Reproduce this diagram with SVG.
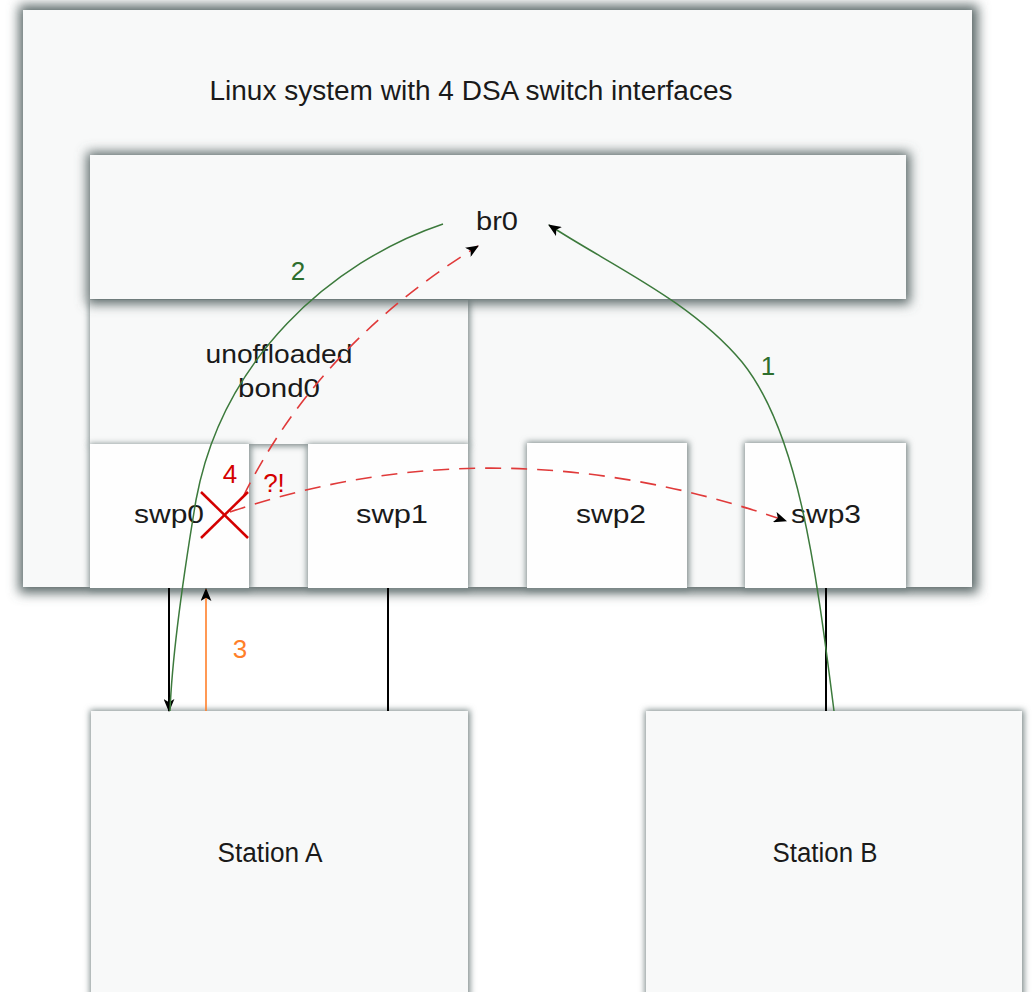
<svg xmlns="http://www.w3.org/2000/svg" width="1033" height="992" viewBox="0 0 1033 992">
  <style>
    .box { fill: #f8f9f9; }
    .port { fill: #fefefe; }
    .shadow { fill: #5a6868; }
    .shadow-s { fill: #7a8888; }
    .lbl { font-family: "Liberation Sans", Arial, sans-serif; fill: #1a1a1a; text-anchor: middle; }
    .port-lbl { font-size: 26px; }
    .wire { stroke: #000; stroke-width: 2; fill: none; }
    .flow-ok { stroke: #3c7a3c; stroke-width: 1.5; fill: none; }
    .flow-bad { stroke: #e03a3a; stroke-width: 1.6; fill: none; stroke-dasharray: 16 10; }
    .num { font-family: "Liberation Sans", Arial, sans-serif; font-size: 26px; text-anchor: middle; }
  </style>
  <defs>
    <filter id="blur" x="-20%" y="-20%" width="140%" height="140%">
      <feGaussianBlur stdDeviation="6"/>
    </filter>
    <filter id="blur-s" x="-20%" y="-20%" width="140%" height="140%">
      <feGaussianBlur stdDeviation="3"/>
    </filter>
    <marker id="head" viewBox="0 0 12 10" refX="11" refY="5" markerWidth="13" markerHeight="11" markerUnits="userSpaceOnUse" orient="auto">
      <path d="M0,0 L12,5 L0,10 L3,5 z" fill="#000"/>
    </marker>
  </defs>

  <rect width="1033" height="992" fill="#fff"/>

  <!-- host system -->
  <g id="linux-system">
    <rect class="shadow" x="19" y="5" width="959" height="588" filter="url(#blur)"/>
    <rect class="box" x="23" y="10" width="949" height="577"/>
    <text class="lbl" x="471" y="100" font-size="27" textLength="523" lengthAdjust="spacingAndGlyphs">Linux system with 4 DSA switch interfaces</text>
  </g>

  <g id="bond0">
    <rect class="shadow-s" x="89" y="300" width="381" height="146" filter="url(#blur-s)"/>
    <rect class="box" x="90" y="300" width="378" height="144"/>
    <text class="lbl" x="279" y="363" font-size="26" textLength="147" lengthAdjust="spacingAndGlyphs">unoffloaded</text>
    <text class="lbl" x="279" y="397" font-size="26" textLength="82" lengthAdjust="spacingAndGlyphs">bond0</text>
  </g>

  <g id="br0">
    <rect class="shadow" x="87" y="152" width="823" height="152" filter="url(#blur)"/>
    <rect class="box" x="90" y="155" width="816" height="144"/>
    <text class="lbl" x="497" y="230" font-size="25" textLength="42" lengthAdjust="spacingAndGlyphs">br0</text>
  </g>

  <g id="swp0">
    <rect class="shadow-s" x="89" y="444" width="162" height="146" filter="url(#blur-s)"/>
    <rect class="port" x="90" y="444" width="159" height="144"/>
    <text class="lbl port-lbl" x="169" y="523" textLength="70" lengthAdjust="spacingAndGlyphs">swp0</text>
  </g>
  <g id="swp1">
    <rect class="shadow-s" x="307" y="444" width="163" height="146" filter="url(#blur-s)"/>
    <rect class="port" x="308" y="444" width="160" height="144"/>
    <text class="lbl port-lbl" x="392" y="523" textLength="72" lengthAdjust="spacingAndGlyphs">swp1</text>
  </g>
  <g id="swp2">
    <rect class="shadow-s" x="526" y="442" width="163" height="148" filter="url(#blur-s)"/>
    <rect class="port" x="527" y="443" width="160" height="145"/>
    <text class="lbl port-lbl" x="611" y="523" textLength="70" lengthAdjust="spacingAndGlyphs">swp2</text>
  </g>
  <g id="swp3">
    <rect class="shadow-s" x="744" y="442" width="164" height="148" filter="url(#blur-s)"/>
    <rect class="port" x="745" y="443" width="161" height="145"/>
    <text class="lbl port-lbl" x="826" y="523" textLength="70" lengthAdjust="spacingAndGlyphs">swp3</text>
  </g>

  <g id="station-a">
    <rect class="shadow-s" x="90" y="710" width="380" height="300" filter="url(#blur-s)"/>
    <rect class="box" x="91" y="711" width="377" height="300"/>
    <text class="lbl" x="270" y="862" font-size="27" textLength="105" lengthAdjust="spacingAndGlyphs">Station A</text>
  </g>
  <g id="station-b">
    <rect class="shadow-s" x="645" y="710" width="379" height="300" filter="url(#blur-s)"/>
    <rect class="box" x="646" y="711" width="376" height="300"/>
    <text class="lbl" x="825" y="862" font-size="27" textLength="105" lengthAdjust="spacingAndGlyphs">Station B</text>
  </g>

  <g id="connectors">
    <!-- cabling -->
    <line class="wire" x1="169" y1="588" x2="169" y2="711" marker-end="url(#head)"/>
    <line class="wire" x1="388" y1="588" x2="388" y2="711"/>
    <line class="wire" x1="826" y1="588" x2="826" y2="711"/>
    <line x1="206" y1="711" x2="206" y2="589" stroke="#ff7f2a" stroke-width="1.6" marker-end="url(#head)"/>

    <!-- forwarded path -->
    <path class="flow-ok" d="M 834 711 C 815 560, 797 430, 742 362 C 690 300, 610 265, 549 225" marker-end="url(#head)"/>
    <path class="flow-ok" d="M 443 224 C 330 262, 222 360, 196 500 C 181 590, 172 660, 170 711"/>

    <!-- failed path -->
    <path class="flow-bad" d="M 243 497 Q 318 345 478 246" marker-end="url(#head)"/>
    <path class="flow-bad" d="M 230 512 Q 500 420 786 521" marker-end="url(#head)"/>
    <g stroke="#d40000" stroke-width="2.5">
      <line x1="201" y1="492" x2="248" y2="538"/>
      <line x1="201" y1="538" x2="248" y2="492"/>
    </g>

    <text class="num" x="298" y="280" fill="#2d6e2d">2</text>
    <text class="num" x="768" y="375" fill="#2d6e2d">1</text>
    <text class="num" x="240" y="658" fill="#ff7f2a">3</text>
    <text class="num" x="230" y="483" font-size="25" fill="#d40000">4</text>
    <text class="num" x="274" y="492" font-size="25" fill="#d40000">?!</text>
  </g>
</svg>
